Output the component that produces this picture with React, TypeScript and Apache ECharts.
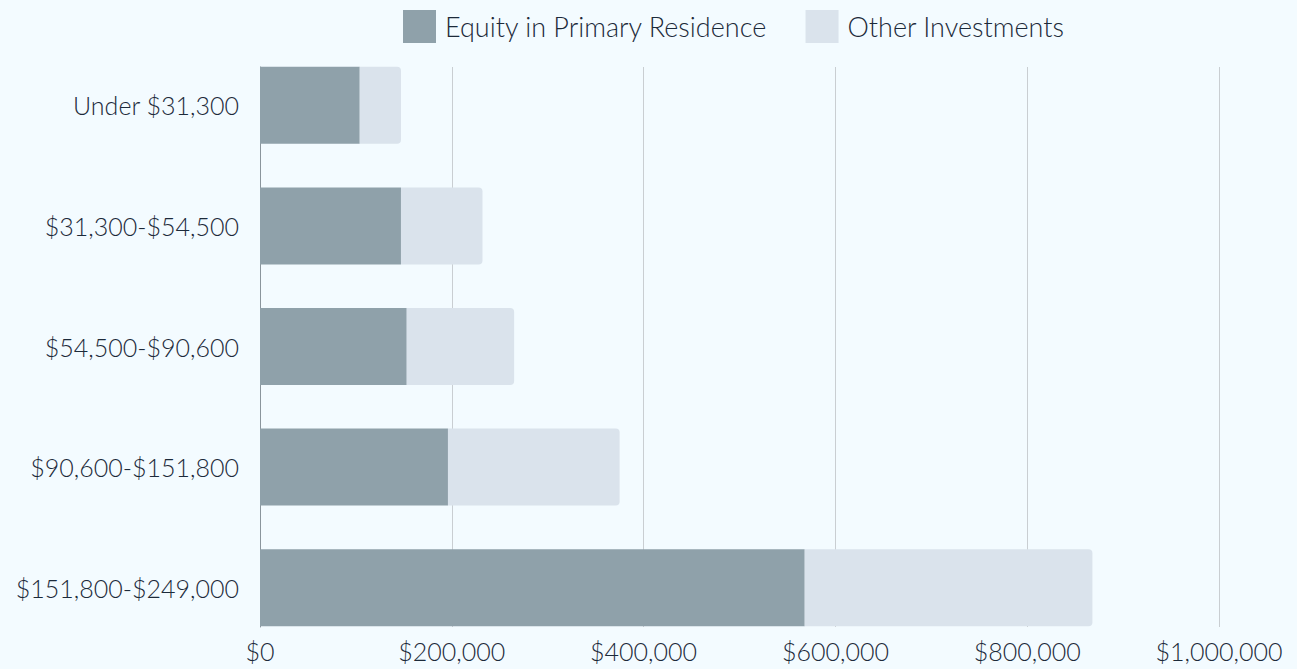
import React, { useEffect, useRef } from "react";
import * as echarts from "echarts";

const categories = [
  "Under $31,300",
  "$31,300-$54,500",
  "$54,500-$90,600",
  "$90,600-$151,800",
  "$151,800-$249,000",
];
const equityValues = [104000, 147000, 153000, 196000, 568000];
const otherValues = [43000, 85000, 112000, 179000, 300000];
const seriesNames = ["Equity in Primary Residence", "Other Investments"];
const xMin = 0;
const xMax = 1000000;
const xInterval = 200000;

const FONT = "Lato";
const TEXT = "#1c2a3a";

function fmt(v: number) {
  return "$" + v.toLocaleString("en-US");
}

export default function App() {
  const ref = useRef<HTMLDivElement>(null);
  useEffect(() => {
    document.body.style.margin = "0";
    const chart = echarts.init(ref.current!, null, { renderer: "svg" });
    chart.setOption({
      animation: false,
      backgroundColor: "#f3fbff",
      textStyle: { fontFamily: FONT, color: TEXT },
      legend: {
        top: 5,
        left: 398,
        itemWidth: 33,
        itemHeight: 33,
        itemGap: 38,
        icon: "rect",
        textStyle: { fontFamily: FONT, fontWeight: 300, fontSize: 27, color: TEXT, padding: [0, 0, 0, 4] },
        data: seriesNames,
      },
      grid: [
        { left: 260, right: 78, top: 67, bottom: 42 },
        { left: 260, right: 78, top: 45, bottom: 21 },
      ],
      xAxis: [
        {
          type: "value",
          gridIndex: 0,
          min: xMin,
          max: xMax,
          interval: xInterval,
          axisLine: { show: false },
          axisTick: { show: false },
          splitLine: { show: true, lineStyle: { color: "#c9ced2", width: 1 } },
          axisLabel: {
            formatter: (v: number) => fmt(v),
            fontFamily: FONT,
            fontWeight: 300,
            fontSize: 25,
            color: TEXT,
            margin: 11,
          },
        },
        {
          type: "value",
          gridIndex: 1,
          min: xMin,
          max: xMax,
          interval: xInterval,
          show: false,
        },
      ],
      yAxis: [
        {
          type: "value",
          gridIndex: 0,
          axisLine: { show: true, onZero: false, lineStyle: { color: "#8a959c", width: 1 } },
          axisTick: { show: false },
          axisLabel: { show: false },
          splitLine: { show: false },
        },
        {
          type: "category",
          gridIndex: 1,
          inverse: true,
          data: categories,
          axisLine: { show: false },
          axisTick: { show: false },
          axisLabel: {
            fontFamily: FONT,
            fontWeight: 300,
            fontSize: 25,
            color: TEXT,
            margin: 21,
          },
        },
      ],
      series: [
        {
          name: seriesNames[0],
          type: "bar",
          stack: "total",
          xAxisIndex: 1,
          yAxisIndex: 1,
          barWidth: 77,
          itemStyle: { color: "#8fa1aa" },
          data: equityValues,
        },
        {
          name: seriesNames[1],
          type: "bar",
          stack: "total",
          xAxisIndex: 1,
          yAxisIndex: 1,
          barWidth: 77,
          itemStyle: { color: "#dae3ec", borderRadius: [0, 4, 4, 0] },
          data: otherValues,
        },
      ],
    });
    return () => chart.dispose();
  }, []);
  return <div ref={ref} style={{ width: 1297, height: 669 }} />;
}
